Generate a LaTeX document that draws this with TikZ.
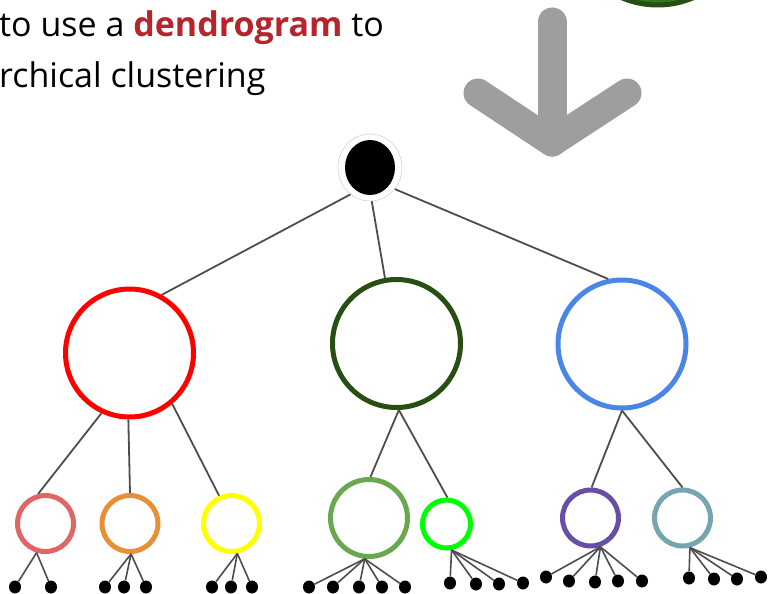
\documentclass[tikz,border=0pt]{standalone}
\usepackage{fontspec}
\setmainfont{Open Sans}
\usetikzlibrary{shapes.geometric}
\definecolor{ddred}{RGB}{181,37,43}
\definecolor{arrowgray}{RGB}{158,158,158}
\definecolor{cred}{RGB}{255,0,0}
\definecolor{cdkgreen}{RGB}{39,78,19}
\definecolor{cblue}{RGB}{74,134,232}
\definecolor{cpink}{RGB}{224,102,102}
\definecolor{corange}{RGB}{230,145,56}
\definecolor{cyellow}{RGB}{255,255,0}
\definecolor{cltgreen}{RGB}{106,168,79}
\definecolor{cbright}{RGB}{0,255,0}
\definecolor{cpurple}{RGB}{103,78,167}
\definecolor{cteal}{RGB}{118,165,175}
\definecolor{linegray}{RGB}{77,77,77}
\definecolor{topgreen}{RGB}{56,118,29}
\tikzset{
  ring/.style={circle, inner sep=0pt, line width=5pt, fill=white},
  bigring/.style={ring, minimum size=128pt},
  leaf/.style={ellipse, fill=black, inner sep=0pt, minimum width=12pt, minimum height=13pt},
  conn/.style={draw=linegray, line width=1.8pt},
  lconn/.style={draw=linegray, line width=1.6pt},
}
\begin{document}
\begin{tikzpicture}[x=1pt,y=-1pt]
\useasboundingbox (0,0) rectangle (768,594);
% partial green circle at top
\node[circle, inner sep=0pt, minimum size=182pt, line width=5pt, draw=cdkgreen, fill=topgreen] (topc) at (657.5,-86) {};
% text
\node[anchor=base west, inner sep=0pt, font=\fontsize{34}{36}\selectfont] (t1) at (-1,37) {to use a \textcolor{ddred}{\textbf{dendrogram}} to};
\node[anchor=base west, inner sep=0pt, font=\fontsize{34}{36}\selectfont] (t2) at (-1,88) {rchical clustering};
% arrow
\draw[arrowgray, line width=29pt, line cap=round, line join=round] (552,22) -- (552,142);
\draw[arrowgray, line width=29pt, line cap=round, line join=round] (478,93) -- (552,142) -- (627,93);
% root
\node[ellipse, inner sep=0pt, minimum width=64pt, minimum height=67pt, draw=black!18, line width=0.6pt, fill=white] (root) at (370,167.5) {};
\node[ellipse, inner sep=0pt, minimum width=50pt, minimum height=55pt, fill=black] (rootin) at (370,167.5) {};
% level 1
\node[bigring, draw=cred] (red) at (129.5,353) {};
\node[bigring, draw=cdkgreen] (dkg) at (396.5,343.5) {};
\node[bigring, draw=cblue] (blue) at (622,344) {};
\draw[conn] (root.234) -- (red.61);
\draw[conn] (root.273) -- (dkg.100);
\draw[conn] (root.319) -- (blue.102);
% level 2
\node[ring, draw=cpink, minimum size=56pt] (pink) at (45.5,523.5) {};
\node[ring, draw=corange, minimum size=56pt] (orange) at (130,523.5) {};
\node[ring, draw=cyellow, minimum size=56pt] (yellow) at (231.5,523.5) {};
\node[ring, draw=cltgreen, minimum size=77pt] (ltg) at (369,518) {};
\node[ring, draw=cbright, minimum size=48pt] (bright) at (446.5,524) {};
\node[ring, draw=cpurple, minimum size=56pt] (purple) at (590.5,518) {};
\node[ring, draw=cteal, minimum size=56pt] (teal) at (682.5,518) {};
\draw[conn] (red.245) -- (pink.104);
\draw[conn] (red.269) -- (orange.90);
\draw[conn] (red.310) -- (yellow.114);
\draw[conn] (dkg.272) -- (ltg.88);
\draw[conn] (dkg.272) -- (bright.88);
\draw[conn] (blue.270) -- (purple.88);
\draw[conn] (blue.270) -- (teal.90);
% join points
\coordinate (jp) at (pink.253);
\coordinate (jo) at (orange.272);
\coordinate (jy) at (yellow.281);
\coordinate (jl) at (ltg.264);
\coordinate (jb) at (bright.281);
\coordinate (ju) at (purple.289);
\coordinate (jt) at (teal.284);
% leaves
\node[leaf] (p1) at (15,587) {};
\node[leaf] (p2) at (51,587) {};
\node[leaf] (o1) at (105,587) {};
\node[leaf] (o2) at (124,587) {};
\node[leaf] (o3) at (146,587) {};
\node[leaf] (y1) at (212,587) {};
\node[leaf] (y2) at (231,587) {};
\node[leaf] (y3) at (252,587) {};
\node[leaf] (l1) at (309,587) {};
\node[leaf] (l2) at (333,587) {};
\node[leaf] (l3) at (359,587) {};
\node[leaf] (l4) at (382,587) {};
\node[leaf] (l5) at (405,587) {};
\node[leaf] (b1) at (450,583) {};
\node[leaf] (b2) at (476,584) {};
\node[leaf] (b3) at (499,584) {};
\node[leaf] (b4) at (523,583) {};
\node[leaf] (u1) at (546,577) {};
\node[leaf] (u2) at (569,581) {};
\node[leaf] (u3) at (595,582) {};
\node[leaf] (u4) at (618,581) {};
\node[leaf] (u5) at (642,581) {};
\node[leaf] (e1) at (689,578) {};
\node[leaf] (e2) at (714,579) {};
\node[leaf] (e3) at (737,579) {};
\node[leaf] (e4) at (761,577) {};
\foreach \j/\l in {jp/p1,jp/p2,jo/o1,jo/o2,jo/o3,jy/y1,jy/y2,jy/y3,jl/l1,jl/l2,jl/l3,jl/l4,jl/l5,jb/b1,jb/b2,jb/b3,jb/b4,ju/u1,ju/u2,ju/u3,ju/u4,ju/u5,jt/e1,jt/e2,jt/e3,jt/e4}
  \draw[lconn] (\j) -- (\l);
\end{tikzpicture}
\end{document}
